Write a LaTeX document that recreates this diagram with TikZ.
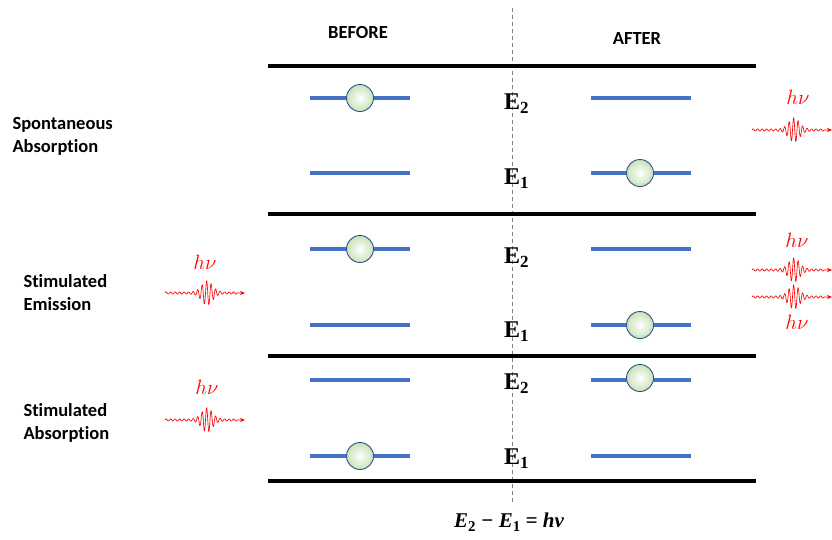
\documentclass[tikz,border=0pt]{standalone}
\usepackage[no-math]{fontspec}
\setmainfont[Ligatures={NoCommon}]{Carlito}
\newfontfamily\relfont{Liberation Serif}
\usetikzlibrary{arrows.meta}

\definecolor{levelblue}{HTML}{4472C4}
\definecolor{edgeblue}{HTML}{2F528F}
\definecolor{ballgreen}{HTML}{C9E2B8}
\definecolor{photonred}{HTML}{FF0000}

\tikzset{
  divider/.style={line width=3.5pt, black},
  level/.style={line width=3.5pt, levelblue},
  electron/.style={circle, minimum size=27pt, inner sep=0pt, draw=edgeblue,
    line width=0.9pt, inner color=white, outer color=ballgreen},
  head/.style={font=\fontsize{18.5}{22}\selectfont\bfseries},
  side/.style={font=\fontsize{18.5}{23}\selectfont\bfseries, align=left, anchor=west},
  energy/.style={font=\relfont\fontsize{24}{26}\selectfont\bfseries, anchor=base west, inner sep=0pt},
  hnu/.style={text=photonred, font=\fontsize{21}{22}\selectfont},
  relstyle/.style={font=\relfont\fontsize{21}{22}\selectfont\bfseries\itshape},
  wave/.style={photonred, line width=0.65pt, -{Stealth[length=5pt,width=4pt]}}
}
% lowered index digit for the serif labels
\newcommand\lowidx[1]{\raisebox{-0.18em}{\upshape\fontsize{15}{15}\selectfont #1}}
\newcommand\levidx[1]{\raisebox{-0.2em}{\fontsize{17}{17}\selectfont #1}}

\begin{document}
\begin{tikzpicture}[x=1pt,y=-1pt]
\useasboundingbox (0,0) rectangle (832,539);

% central dashed axis
\coordinate (axtop) at (512,8);
\coordinate (axbot) at (512,505);
\draw[gray, line width=0.8pt, dash pattern=on 4pt off 3pt] (axtop) -- (axbot);

% horizontal dividers between the three processes
\foreach \yy in {66,214,356,481}
  \draw[divider] (268,\yy) -- (756,\yy);

% energy levels, before (left) and after (right)
\foreach \yy in {98,173,249,325,380,456} {
  \draw[level] (310,\yy) -- (410,\yy);
  \draw[level] (591,\yy) -- (691,\yy);
}

% column headings
\node[head] (before) at (358,32) {BEFORE};
\node[head] (after) at (637,38) {AFTER};

% process names
\node[side] (spont) at (9,136) {Spontaneous\\Absorption};
\node[side] (stimem) at (20,293) {Stimulated\\Emission};
\node[side] (stimab) at (20,423) {Stimulated\\Absorption};

% level labels
\node[energy] (e2a) at (504,109) {E\levidx{2}};
\node[energy] (e1a) at (504,184) {E\levidx{1}};
\node[energy] (e2b) at (504,263) {E\levidx{2}};
\node[energy] (e1b) at (504,337) {E\levidx{1}};
\node[energy] (e2c) at (504,389) {E\levidx{2}};
\node[energy] (e1c) at (504,464) {E\levidx{1}};

% electrons
\node[electron] (ea) at (360,98) {};
\node[electron] (eb) at (640,173) {};
\node[electron] (ec) at (360,249) {};
\node[electron] (ed) at (640,325) {};
\node[electron] (ee) at (360,456) {};
\node[electron] (ef) at (640,378) {};

% photons: wave packets travelling to the right
\foreach \px/\py in {752/130, 165/293, 752/270, 752/297, 165/420} {
  \begin{scope}[shift={(\px,\py)}]
    \draw[wave] plot[domain=0:72, samples=420, smooth]
        (\x, {-(1.1+11*exp(-1*((\x-42)/7.5)*((\x-42)/7.5)))*sin(\x*80)}) -- (80,0);
  \end{scope}
}
\node[hnu] (hnua) at (798,97) {$h\nu$};
\node[hnu] (hnub) at (205,262) {$h\nu$};
\node[hnu] (hnuc) at (797,240) {$h\nu$};
\node[hnu] (hnud) at (797,322) {$h\nu$};
\node[hnu] (hnue) at (207,387) {$h\nu$};

% energy relation
\node[relstyle] (relation) at (509,522) {E\lowidx{2} − E\lowidx{1} = hν};
\end{tikzpicture}
\end{document}
